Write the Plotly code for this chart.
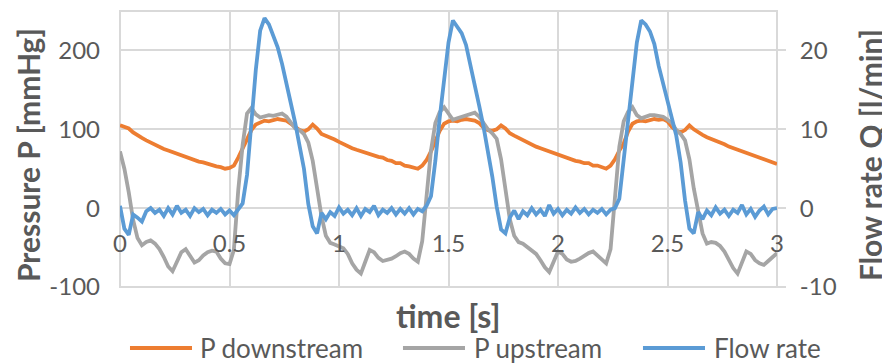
import plotly.graph_objects as go

# ---- data ----
time_s = [round(i * 0.02, 2) for i in range(151)]

p_downstream = [
    105, 103, 101, 96, 92, 89, 86, 83, 81, 78,
    75, 73, 71, 69, 66, 65, 62, 61, 59, 58,
    56, 55, 53, 52, 50, 51, 54, 64, 75, 87,
    99, 106, 109, 111, 110, 112, 113, 112, 111, 107,
    103, 99, 97, 100, 106, 101, 94, 92, 89, 87,
    84, 81, 79, 76, 74, 72, 71, 68, 67, 65,
    64, 61, 60, 57, 57, 54, 53, 52, 50, 54,
    61, 72, 84, 98, 107, 110, 111, 110, 112, 113,
    112, 111, 108, 102, 99, 98, 100, 105, 101, 95,
    92, 89, 86, 83, 81, 78, 76, 74, 72, 69,
    67, 66, 63, 62, 60, 59, 57, 57, 54, 54,
    52, 50, 54, 62, 73, 82, 97, 107, 110, 111,
    110, 112, 113, 112, 113, 110, 103, 98, 96, 99,
    105, 100, 96, 93, 90, 88, 85, 83, 81, 78,
    76, 75, 72, 71, 68, 67, 64, 63, 60, 59,
    56,
]

p_upstream = [
    72, 50, 20, -15, -38, -47, -43, -41, -45, -52,
    -62, -74, -80, -68, -56, -52, -60, -69, -66, -60,
    -56, -54, -55, -64, -70, -71, -53, 23, 80, 120,
    127, 119, 115, 116, 118, 117, 119, 120, 116, 108,
    101, 99, 94, 83, 60, 25, -10, -35, -44, -46,
    -48, -51, -58, -70, -78, -83, -68, -53, -56, -63,
    -67, -66, -64, -61, -57, -55, -58, -64, -68, -42,
    17, 73, 108, 122, 128, 120, 112, 114, 116, 118,
    120, 121, 116, 108, 100, 95, 88, 62, 20, -14,
    -35, -43, -45, -49, -53, -58, -66, -75, -81, -68,
    -55, -58, -65, -68, -67, -64, -60, -57, -55, -60,
    -66, -70, -52, 15, 78, 110, 122, 128, 118, 114,
    116, 118, 118, 117, 116, 112, 108, 99, 94, 86,
    62, 25, -5, -32, -45, -43, -44, -48, -55, -65,
    -76, -83, -70, -55, -58, -66, -70, -72, -67, -62,
    -57,
]

flow_rate = [
    0.3, -2.6, -3.4, -0.8, -1.2, -1.7, -0.4, 0.0, -0.6, -0.2,
    -1.0, 0.0, -0.8, 0.3, -0.6, -0.2, -1.0, 0.0, -0.5, -0.1,
    -0.9, -0.2, -0.6, -0.1, -0.8, -0.3, -0.9, -0.1, 0.6, 4.2,
    11.0, 17.5, 22.5, 24.1, 23.3, 22.0, 20.4, 18.3, 16.0, 13.3,
    10.8, 8.0, 5.0, 0.5, -2.3, -3.2, -0.6, -1.4, -0.5, -1.0,
    0.1, -0.7, -0.2, -0.9, 0.0, -1.0, -0.1, -0.5, 0.3, -0.9,
    -0.2, -0.6, 0.0, -0.8, -0.1, -0.7, 0.0, -0.8, -0.1, -0.4,
    0.3, 1.5, 6.0, 11.5, 16.5, 21.0, 23.8, 23.0, 22.2, 20.7,
    18.3, 15.8, 13.0, 10.3, 7.4, 4.0, 0.2, -2.7, -3.2, -1.2,
    -0.3, -1.4, -0.4, -0.9, 0.0, -0.8, -0.2, -1.0, 0.4, -0.7,
    -0.1, -0.9, -0.2, -0.7, 0.1, -0.6, -0.1, -0.8, -0.2, -0.6,
    -0.1, -0.8, -0.2, 0.0, 1.2, 6.0, 11.3, 16.5, 21.0, 23.8,
    23.3, 22.4, 20.8, 18.0, 15.8, 13.9, 11.8, 9.2, 5.8, 1.0,
    -2.6, -3.2, -0.5, -1.4, -0.3, -0.9, 0.1, -0.7, -0.2, -1.0,
    -0.2, -0.6, 0.4, -0.8, -0.1, -1.1, -0.3, 0.2, -0.8, -0.1,
    0.0,
]

series_names = ["P downstream", "P upstream", "Flow rate"]
x_ticks = [0, 0.5, 1, 1.5, 2, 2.5, 3]
x_tick_labels = ["0", "0.5", "1", "1.5", "2", "2.5", "3"]
p_ticks = [-100, 0, 100, 200]
p_tick_labels = ["-100", "0", "100", "200"]
q_ticks = [-10, 0, 10, 20]
q_tick_labels = ["-10", "0", "10", "20"]
p_range = [-100, 250]
q_range = [-10, 25]

# ---- style ----
COL_OR = "#ED7D31"
COL_GR = "#A5A5A5"
COL_BL = "#5B9BD5"
GRID = "#D9D9D9"
TXT = "#595959"
FONT = "Lato"
LW = 3.8
TICK_SIZE = 24

fig = go.Figure()
fig.add_trace(go.Scatter(x=time_s, y=p_downstream, name=series_names[0], mode="lines",
                         line=dict(color=COL_OR, width=LW), yaxis="y"))
fig.add_trace(go.Scatter(x=time_s, y=p_upstream, name=series_names[1], mode="lines",
                         line=dict(color=COL_GR, width=LW), yaxis="y"))
fig.add_trace(go.Scatter(x=time_s, y=flow_rate, name=series_names[2], mode="lines",
                         line=dict(color=COL_BL, width=LW), yaxis="y2"))

zero_pos = (0 - p_range[0]) / (p_range[1] - p_range[0])

# the page body has an 8 px margin, so the figure is 8 px smaller and shifted
fig.update_layout(
    width=882, height=356,
    margin=dict(l=112, r=113, t=3, b=77),
    plot_bgcolor="white", paper_bgcolor="white",
    showlegend=False,
    font=dict(family=FONT, color=TXT),
    xaxis=dict(range=[0, 3], tickvals=x_ticks, ticktext=x_tick_labels,
               showgrid=True, gridcolor=GRID, gridwidth=2,
               zeroline=False, showline=False, ticks="",
               anchor="free", position=zero_pos,
               tickfont=dict(family=FONT, size=TICK_SIZE, color=TXT),
               ticklabelstandoff=19),
    yaxis=dict(range=p_range, tickvals=p_ticks, ticktext=p_tick_labels,
               showgrid=True, gridcolor=GRID, gridwidth=2,
               zeroline=False, showline=False, ticks="",
               tickfont=dict(family=FONT, size=TICK_SIZE, color=TXT),
               ticklabelstandoff=19),
    yaxis2=dict(range=q_range, tickvals=q_ticks, ticktext=q_tick_labels,
                overlaying="y", side="right",
                showgrid=False, zeroline=False, showline=False,
                ticks="outside", ticklen=8, tickwidth=2, tickcolor=GRID,
                tickfont=dict(family=FONT, size=TICK_SIZE, color=TXT),
                ticklabelstandoff=9),
)

shapes = [dict(type="rect", xref="paper", yref="paper", x0=0, x1=1, y0=0, y1=1,
               line=dict(color=GRID, width=2), layer="below")]

annotations = [
    dict(text="<b>Pressure P [mmHg]</b>", xref="paper", yref="paper",
         x=-0.140, y=0.478, textangle=-90, showarrow=False,
         font=dict(family=FONT, size=30, color=TXT), xanchor="center", yanchor="middle"),
    dict(text="<b>Flow rate Q [l/min]</b>", xref="paper", yref="paper",
         x=1.1416, y=0.478, textangle=-90, showarrow=False,
         font=dict(family=FONT, size=30, color=TXT), xanchor="center", yanchor="middle"),
    dict(text="<b>time [s]</b>", xref="paper", yref="paper",
         x=0.5, y=-0.105, showarrow=False,
         font=dict(family=FONT, size=32, color=TXT), xanchor="center", yanchor="middle"),
]

# custom legend (line sample + label)
leg_y = -0.221
leg_items = [
    (series_names[0], COL_OR, 0.0152, 0.1096, 0.1187),
    (series_names[1], COL_GR, 0.4307, 0.5251, 0.5358),
    (series_names[2], COL_BL, 0.7960, 0.8904, 0.9011),
]
for name, col, x0, x1, xt in leg_items:
    shapes.append(dict(type="line", xref="paper", yref="paper", x0=x0, x1=x1,
                       y0=leg_y, y1=leg_y, line=dict(color=col, width=LW)))
    annotations.append(dict(text=name, xref="paper", yref="paper", x=xt, y=leg_y,
                            showarrow=False, xanchor="left", yanchor="middle",
                            font=dict(family=FONT, size=26, color=TXT)))

fig.update_layout(shapes=shapes, annotations=annotations)
fig.write_html("out.html")
